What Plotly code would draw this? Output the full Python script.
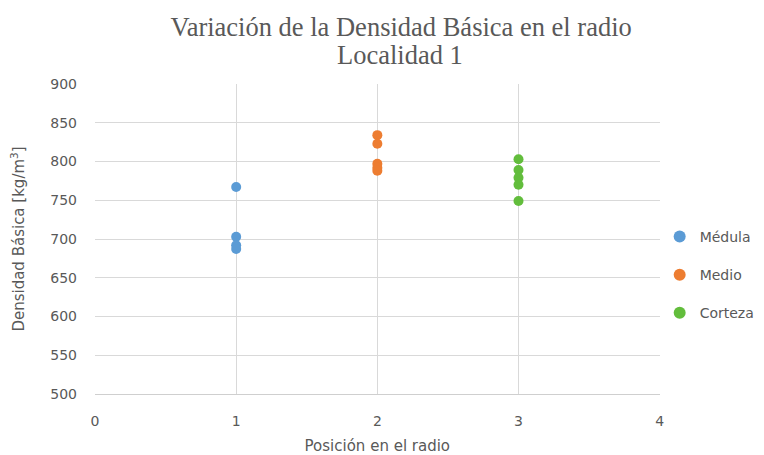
import plotly.graph_objects as go

series_names = ["Médula", "Medio", "Corteza"]
positions = [1, 2, 3]
medula = [767, 703, 692, 687]
medio = [834, 823, 797, 792, 788]
corteza = [803, 789, 779, 770, 749]
colors = ["#5B9BD5", "#ED7D31", "#62BD3C"]
x_ticks = [0, 1, 2, 3, 4]
y_ticks = [500, 550, 600, 650, 700, 750, 800, 850, 900]
title_text = "Variación de la Densidad Básica en el radio"
subtitle_text = "Localidad 1"

values = [medula, medio, corteza]

fig = go.Figure()
for name, pos, vals, col in zip(series_names, positions, values, colors):
    fig.add_trace(go.Scatter(
        x=[pos] * len(vals), y=vals, mode="markers", name=name,
        legendgroup=name,
        marker=dict(size=10, color=col),
    ))

grey = "#595959"
sans = "DejaVu Sans"
serif = "Liberation Serif"
fig.update_layout(
    width=756, height=447,
    margin=dict(l=87, r=103, t=76, b=61),
    paper_bgcolor="white", plot_bgcolor="white",
    title=dict(
        text=title_text,
        font=dict(family=serif, size=26.5, color=grey),
        xref="container", yref="container",
        x=0.52, xanchor="center", y=0.9575, yanchor="middle",
    ),
    annotations=[dict(
        text=subtitle_text, xref="paper", yref="paper",
        x=0.5406, y=1.0935, xanchor="center", yanchor="middle",
        showarrow=False, font=dict(family=serif, size=26.5, color=grey),
    )],
    font=dict(family=sans, size=14, color=grey),
    xaxis=dict(
        range=[0, 4], tickvals=x_ticks, showgrid=True, gridcolor="#D9D9D9",
        zeroline=False, showline=True, linecolor="#CFCFCF",
        ticks="", ticklabelstandoff=14, automargin=False,
        title=dict(text="Posición en el radio", font=dict(family=sans, size=15, color=grey), standoff=23),
        tickfont=dict(family=sans, size=14, color=grey),
    ),
    yaxis=dict(
        range=[500, 900], tickvals=y_ticks, showgrid=True, gridcolor="#D9D9D9",
        zeroline=False, showline=False, ticks="", ticklabelstandoff=17, automargin=False,
        title=dict(text="Densidad Básica [kg/m<sup>3</sup>]", font=dict(family=sans, size=15, color=grey), standoff=24),
        tickfont=dict(family=sans, size=14, color=grey),
    ),
    legend=dict(
        xref="container", yref="container",
        x=0.862, xanchor="left", y=0.403, yanchor="middle",
        font=dict(family=sans, size=14, color=grey), itemsizing="constant",
        tracegroupgap=17,
    ),
    showlegend=True,
)

fig.write_html("out.html")
